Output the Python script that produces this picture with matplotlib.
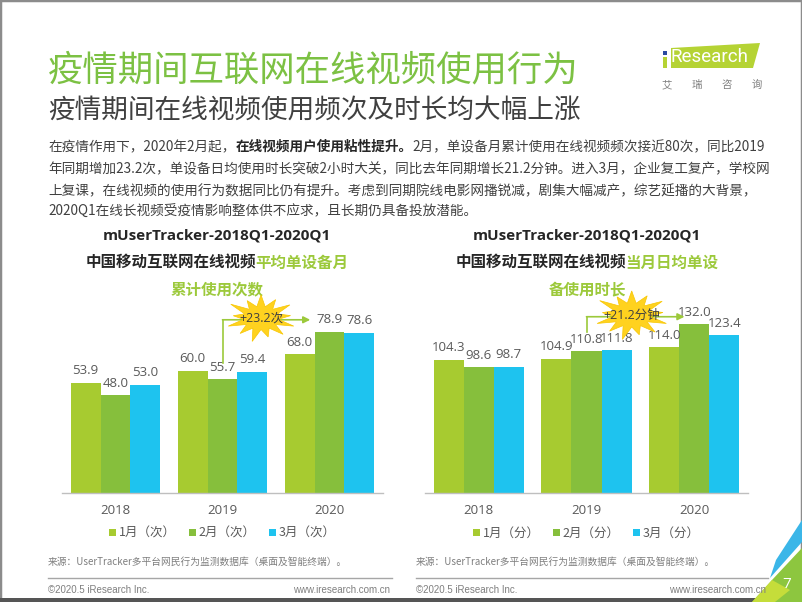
import matplotlib
matplotlib.use('Agg')
import matplotlib.pyplot as plt
from matplotlib.patches import Polygon, Rectangle
import numpy as np

# ---------------- data ----------------
years = ['2018', '2019', '2020']
times_jan = [53.9, 60.0, 68.0]
times_feb = [48.0, 55.7, 78.9]
times_mar = [53.0, 59.4, 78.6]
dur_jan = [104.3, 104.9, 114.0]
dur_feb = [98.6, 110.8, 132.0]
dur_mar = [98.7, 111.8, 123.4]
labels_times = ['1月（次）', '2月（次）', '3月（次）']
labels_dur = ['1月（分）', '2月（分）', '3月（分）']
delta_times = '+23.2次'
delta_dur = '+21.2分钟'

# ---------------- style ----------------
CJK = ['Noto Sans CJK SC', 'DejaVu Sans']
MIX = ['Open Sans', 'Noto Sans CJK SC', 'DejaVu Sans']
plt.rcParams['font.family'] = CJK
C1, C2, C3 = '#A7CB30', '#86BF3C', '#1EC3EF'
GREEN_T = '#7CC143'
LGREEN = '#9CC93B'
DARK = '#404040'
GRAY = '#595959'

W, H = 802, 602
fig = plt.figure(figsize=(W / 100, H / 100), dpi=100)
fig.patch.set_facecolor('white')


def P(x, y):
    return (x / W, 1 - y / H)


def ftext(x, y, s, **kw):
    return fig.text(*P(x, y), s, transform=fig.transFigure, **kw)


# page border
fig.add_artist(Rectangle((0, 0), 1, 1, transform=fig.transFigure, fill=False,
                         ec='#8C8C8C', lw=2.5))
fig.add_artist(Rectangle(P(0, 602), 1, 4 / H, transform=fig.transFigure,
                         fc='#555555', ec='none'))

# titles
ftext(48, 70, '疫情期间互联网在线视频使用行为', fontsize=25.5, color=GREEN_T,
      va='center', ha='left', fontweight='light')
ftext(48, 111, '疫情期间在线视频使用频次及时长均大幅上涨', fontsize=19.2,
      color=DARK, va='center', ha='left', fontweight='light')

# logo
logo = Polygon([P(671, 48), P(760, 43), P(753, 68), P(671, 68)], closed=True,
               transform=fig.transFigure, fc='#B5D334', ec='none')
fig.add_artist(logo)
fig.add_artist(Rectangle(P(663, 68), 4 / W, 11 / H, transform=fig.transFigure,
                         fc='#B5D334', ec='none'))
fig.add_artist(Rectangle(P(663, 55), 4 / W, 4 / H, transform=fig.transFigure,
                         fc='#2B4AA0', ec='none'))
ftext(671, 57.5, 'Research', fontsize=13.5, color='white', va='center',
      ha='left', family=['Roboto', 'DejaVu Sans'])
for i, ch in enumerate('艾瑞咨询'):
    ftext(667 + i * 30, 85, ch, fontsize=7.5, color='#7F7F7F', va='center',
          ha='center')

# body text
fig.canvas.draw()
renderer = fig.canvas.get_renderer()


def rich_line(x, y, parts, size=9.8):
    cx = x
    for s, bold in parts:
        t = ftext(cx, y, s, fontsize=size, color=DARK if not bold else '#262626',
                  va='center', ha='left',
                  fontweight='bold' if bold else 'normal')
        bb = t.get_window_extent(renderer=renderer)
        cx += bb.width


rich_line(48, 147, [('在疫情作用下，2020年2月起，', False),
                    ('在线视频用户使用粘性提升。', True),
                    ('2月，单设备月累计使用在线视频频次接近80次，同比2019', False)])
rich_line(48, 169, [('年同期增加23.2次，单设备日均使用时长突破2小时大关，同比去年同期增长21.2分钟。进入3月，企业复工复产，学校网', False)])
rich_line(48, 191, [('上复课，在线视频的使用行为数据同比仍有提升。考虑到同期院线电影网播锐减，剧集大幅减产，综艺延播的大背景，', False)])
rich_line(48, 212, [('2020Q1在线长视频受疫情影响整体供不应求，且长期仍具备投放潜能。', False)])


# chart titles
def chart_title(cx, dark, green1, green2):
    ftext(cx, 235, 'mUserTracker-2018Q1-2020Q1', fontsize=11, fontweight='bold',
          color='#262626', ha='center', va='center', family=MIX)
    t1 = ftext(0, 263, dark, fontsize=11.2, fontweight='bold', color='#262626',
               ha='left', va='center')
    t2 = ftext(0, 263, green1, fontsize=11.2, fontweight='bold', color=LGREEN,
               ha='left', va='center')
    w1 = t1.get_window_extent(renderer=renderer).width
    w2 = t2.get_window_extent(renderer=renderer).width
    x0 = cx - (w1 + w2) / 2
    t1.set_position(P(x0, 263))
    t2.set_position(P(x0 + w1, 263))
    ftext(cx, 289, green2, fontsize=11.2, fontweight='bold', color=LGREEN,
          ha='center', va='center')


chart_title(217, '中国移动互联网在线视频', '平均单设备月', '累计使用次数')
chart_title(587, '中国移动互联网在线视频', '当月日均单设', '备使用时长')


def starburst(ax, xd, yd, rx, ry, text, fs):
    cxp, cyp = ax.transData.transform((xd, yd))
    n = 13
    radii = [1.0, 0.5, 0.85, 0.5, 1.05, 0.5, 0.8, 0.5, 1.0, 0.5, 0.9, 0.5,
             1.05, 0.5, 0.85, 0.5, 0.95, 0.5, 1.0, 0.5, 0.85, 0.5, 1.0, 0.5,
             0.9, 0.5]
    pts = []
    for k in range(2 * n):
        a = np.pi / 2 + k * np.pi / n
        r = radii[k]
        pts.append(((cxp + rx * r * np.cos(a)) / W, (cyp + ry * r * np.sin(a)) / H))
    poly = Polygon(pts, closed=True, transform=fig.transFigure, fc='#FFD21F',
                   ec='#F7C600', lw=0.5, zorder=5)
    fig.add_artist(poly)
    fig.text(cxp / W, cyp / H, text, fontsize=fs, color='#404040',
             ha='center', va='center', zorder=6, family=MIX)


def make_chart(left, right, ymax, d1, d2, d3, labels):
    bottom_px, top_px = 493, 300
    ax = fig.add_axes([left / W, 1 - bottom_px / H, (right - left) / W,
                       (bottom_px - top_px) / H])
    x = np.arange(len(years))
    bw = 0.279
    cs = []
    for off, d, c, lab in zip([-bw, 0, bw], [d1, d2, d3], [C1, C2, C3], labels):
        b = ax.bar(x + off, d, bw, color=c, label=lab, zorder=2)
        ax.bar_label(b, fmt='%.1f', padding=4, fontsize=9.5, color=GRAY,
                     family=MIX)
        cs.append(b)
    ax.set_xlim(-0.5, 2.5)
    ax.set_ylim(0, ymax)
    for s in ['top', 'left', 'right']:
        ax.spines[s].set_visible(False)
    ax.spines['bottom'].set_color('#BFBFBF')
    ax.spines['bottom'].set_linewidth(1)
    ax.set_yticks([])
    ax.set_xticks(x)
    ax.set_xticklabels(years, fontsize=9.5, color=GRAY, family=MIX)
    ax.tick_params(axis='x', length=0, pad=8)
    ax.set_facecolor('none')
    return ax, x, cs


LEG = dict(loc='center', bbox_to_anchor=(0.5, -0.21), ncol=3, frameon=False,
           fontsize=9, handlelength=0.55, handleheight=0.55,
           handletextpad=0.2, columnspacing=1.1, labelcolor=GRAY)

# left chart
axL, x, csL = make_chart(62, 383, 94.6, times_jan, times_feb, times_mar,
                         labels_times)
yA = times_feb[2] + 6
axL.plot([x[1], x[1]], [times_feb[1] + 8, yA], color=LGREEN, lw=1.2,
         clip_on=False, zorder=3)
axL.annotate('', xy=(x[2] - 0.18, yA), xytext=(x[1], yA),
             arrowprops=dict(arrowstyle='-|>', color=LGREEN, lw=1.2,
                             mutation_scale=10, shrinkA=0, shrinkB=0),
             annotation_clip=False)
starburst(axL, 1.36, 85.8, 35, 23, delta_times, 9)
axL.legend(handles=csL, **LEG)

# right chart
axR, x, csR = make_chart(425, 748, 151.1, dur_jan, dur_feb, dur_mar,
                         labels_dur)
yB = dur_feb[2] + 6
axR.plot([x[1], x[1]], [dur_feb[1] + 15, yB], color=LGREEN, lw=1.2,
         clip_on=False, zorder=3)
axR.annotate('', xy=(x[2] - 0.09, yB), xytext=(x[1], yB),
             arrowprops=dict(arrowstyle='-|>', color=LGREEN, lw=1.2,
                             mutation_scale=10, shrinkA=0, shrinkB=0),
             annotation_clip=False)
starburst(axR, 1.42, 139.4, 37, 24, delta_dur, 9)
axR.legend(handles=csR, **LEG)

# sources / footers
src = '来源：UserTracker多平台网民行为监测数据库（桌面及智能终端）。'
for x0, x1 in [(48, 392), (416, 768)]:
    ftext(x0, 562, src, fontsize=7, color='#7F7F7F', ha='left', va='center')
    fig.add_artist(plt.Line2D([x0 / W, x1 / W], [1 - 578 / H, 1 - 578 / H],
                              transform=fig.transFigure, color='#A6A6A6',
                              lw=1))
    ftext(x0, 590, '©2020.5 iResearch Inc.', fontsize=7, color='#7F7F7F',
          ha='left', va='center', family=['Liberation Sans', 'DejaVu Sans'])
    ftext(x1 - 2, 590, 'www.iresearch.com.cn', fontsize=7, color='#7F7F7F',
          ha='right', va='center', family=['Liberation Sans', 'DejaVu Sans'])

# corner decoration
fig.add_artist(Polygon([P(770, 578), P(802, 542), P(802, 520), P(776, 560)],
                       closed=True, transform=fig.transFigure, fc='#3BB6E8',
                       ec='none'))
fig.add_artist(Polygon([P(752, 602), P(802, 602), P(802, 548), P(772, 580)],
                       closed=True, transform=fig.transFigure, fc='#8DC63F',
                       ec='none'))
fig.add_artist(Polygon([P(752, 602), P(772, 580), P(790, 590), P(775, 602)],
                       closed=True, transform=fig.transFigure, fc='#C5DD3A',
                       ec='none'))
ftext(787, 585, '7', fontsize=11, color='white', ha='center', va='center',
      family=MIX)

fig.savefig('out.png', dpi=100)
